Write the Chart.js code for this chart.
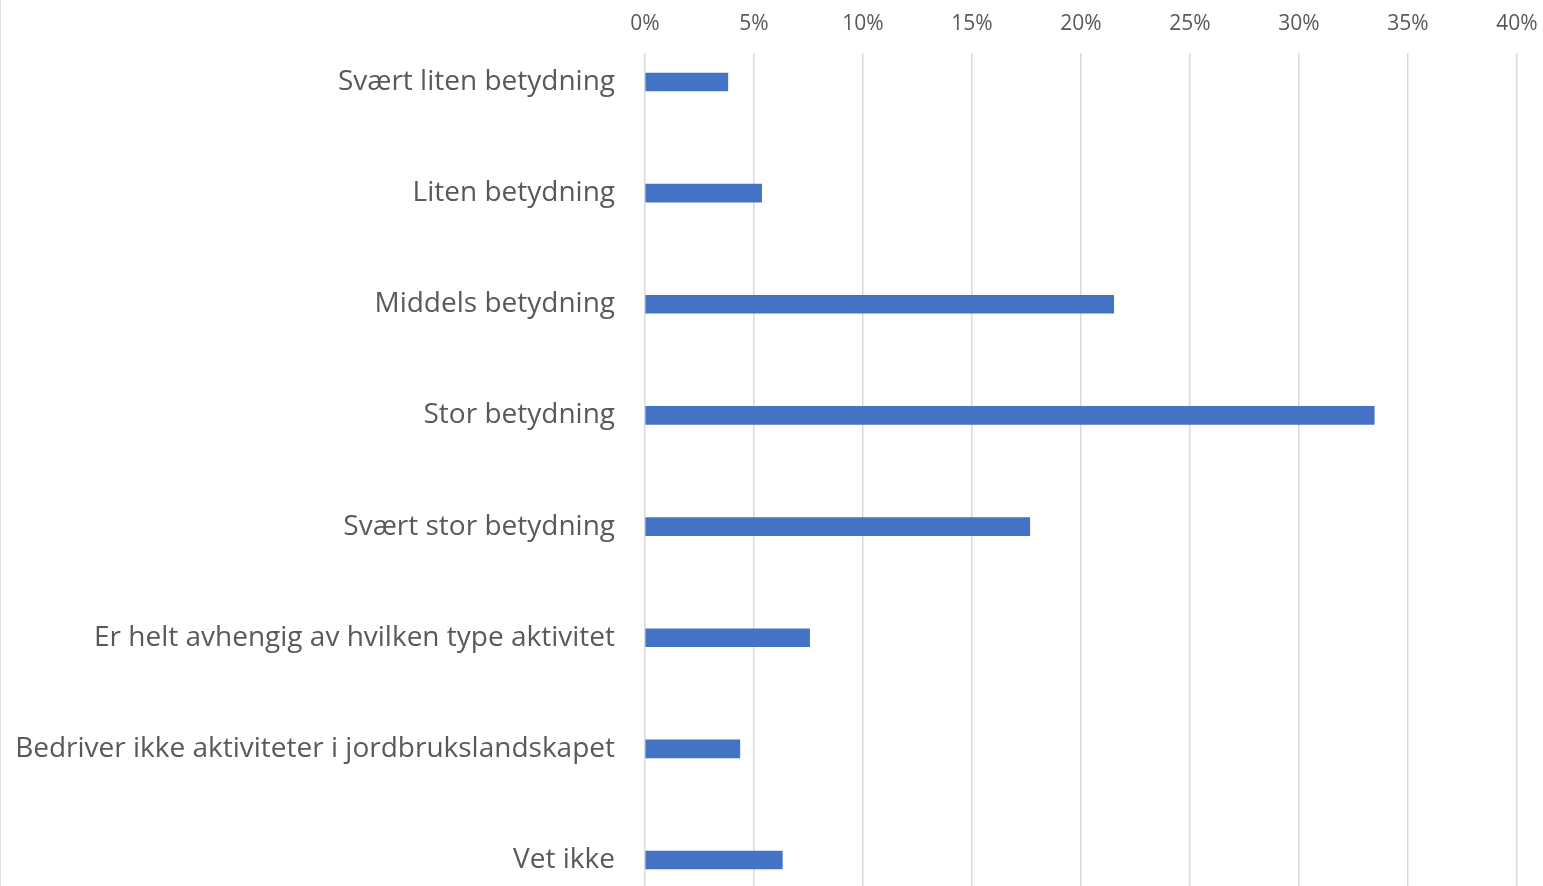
<!DOCTYPE html>
<html>
<head>
<meta charset="utf-8">
<script src="https://cdn.jsdelivr.net/npm/chart.js@4"></script>
<style>
  html, body { margin: 0; padding: 0; background: #fff; overflow: hidden; }
  #wrap { position: relative; width: 1543px; height: 886px; }
  #wrap::before { content: ""; position: absolute; left: 0; top: 0; bottom: 0; width: 1px; background: #e3e3e3; }
</style>
</head>
<body>
<div id="wrap"><canvas id="chart" width="1543" height="886"></canvas></div>
<script>
// ---------------- DATA ----------------
const categories = [
  "Svært liten betydning",
  "Liten betydning",
  "Middels betydning",
  "Stor betydning",
  "Svært stor betydning",
  "Er helt avhengig av hvilken type aktivitet",
  "Bedriver ikke aktiviteter i jordbrukslandskapet",
  "Vet ikke"
];
const shares = [3.8, 5.35, 21.5, 33.45, 17.65, 7.55, 4.35, 6.3];
const xTicks = [0, 5, 10, 15, 20, 25, 30, 35, 40];

const textColor = "#595959";
const gridColor = "#d9d9d9";
const barColor = "#4472C4";

// drop the label overhang padding so the plot area is where we want it
function noPad(s){
  s.paddingTop = 0; s.paddingBottom = 0;
  s.paddingLeft = 0; s.paddingRight = 0;
}

// ---------------- CHART ----------------
const ctx = document.getElementById("chart").getContext("2d");
new Chart(ctx, {
  type: "bar",
  data: {
    datasets: [{
      data: shares.map((v, i) => ({ x: v, y: i })),
      backgroundColor: barColor,
      borderWidth: 0,
      barThickness: 18
    }]
  },
  options: {
    indexAxis: "y",
    responsive: false,
    animation: false,
    events: [],
    layout: { padding: { left: 0, right: 26, top: 0, bottom: 0 } },
    plugins: { legend: { display: false }, tooltip: { enabled: false } },
    scales: {
      x: {
        type: "linear",
        position: "top",
        min: 0,
        max: 40,
        afterBuildTicks: s => { s.ticks = xTicks.map(v => ({ value: v })); },
        afterFit: s => { s.height = 53; noPad(s); },
        ticks: {
          callback: v => v + "%",
          color: textColor,
          font: { family: "Open Sans", size: 21 },
          padding: 16
        },
        grid: { color: gridColor, lineWidth: 1.5, drawTicks: false },
        border: { display: false }
      },
      y: {
        type: "linear",
        reverse: true,
        offset: false,
        min: -0.261,
        max: 7.234,
        afterBuildTicks: s => { s.ticks = categories.map((c, i) => ({ value: i })); },
        afterFit: s => { s.width = 645; noPad(s); },
        ticks: {
          callback: v => categories[v],
          color: textColor,
          font: { family: "Open Sans", size: 28 },
          padding: 30
        },
        grid: { display: false, drawTicks: false, offset: false },
        border: { display: false }
      }
    }
  }
});
</script>
</body>
</html>
